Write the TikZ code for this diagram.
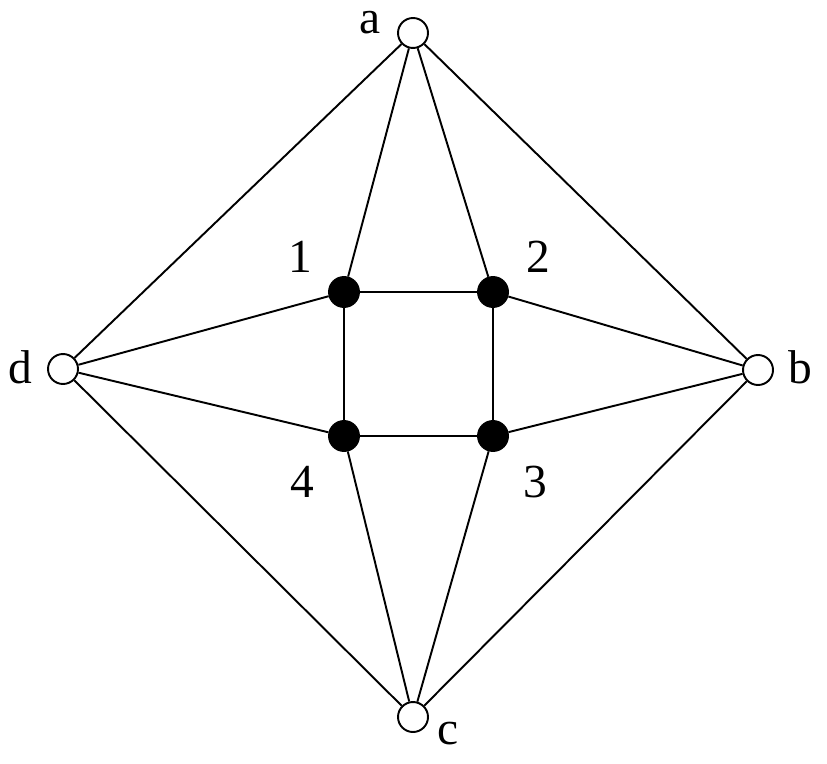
\documentclass[tikz,border=0pt]{standalone}
\usepackage{fontspec}
\setmainfont{Liberation Serif}
\usetikzlibrary{positioning}
\tikzset{
  outer/.style = {circle, draw, line width=1.1pt, fill=white,
                  minimum size=0.6cm, inner sep=0pt},
  inner/.style = {outer, fill=black},
  edge/.style  = {line width=1.1pt},
  lbl/.style   = {font=\fontsize{27}{32}\selectfont, inner sep=0pt, anchor=base},
}
\begin{document}
\begin{tikzpicture}[x=0.02cm,y=-0.02cm]
  \useasboundingbox (0,0) rectangle (827,763);

  % outer vertices
  \node[outer] (a) at (413,33)  {};
  \node[outer] (b) at (758,370) {};
  \node[outer] (c) at (413,717) {};
  \node[outer] (d) at (63,369)  {};
  % inner square
  \node[inner] (n1) at (344,292) {};
  \node[inner] (n2) at (493,292) {};
  \node[inner] (n3) at (493,436) {};
  \node[inner] (n4) at (344,436) {};

  \draw[edge] (a) -- (d);  \draw[edge] (a) -- (b);
  \draw[edge] (c) -- (d);  \draw[edge] (c) -- (b);
  \draw[edge] (a) -- (n1); \draw[edge] (a) -- (n2);
  \draw[edge] (b) -- (n2); \draw[edge] (b) -- (n3);
  \draw[edge] (c) -- (n3); \draw[edge] (c) -- (n4);
  \draw[edge] (d) -- (n4); \draw[edge] (d) -- (n1);
  \draw[edge] (n1) -- (n2) -- (n3) -- (n4) -- (n1);

  % labels (placed on their baselines)
  \node[lbl] (la) at (370,34)  {a};
  \node[lbl] (lb) at (800,383) {b};
  \node[lbl] (lc) at (448,744) {c};
  \node[lbl] (ld) at (20,383)  {d};
  \node[lbl] (l1) at (300,273) {1};
  \node[lbl] (l2) at (538,273) {2};
  \node[lbl] (l3) at (535,497) {3};
  \node[lbl] (l4) at (302,497) {4};
\end{tikzpicture}
\end{document}
